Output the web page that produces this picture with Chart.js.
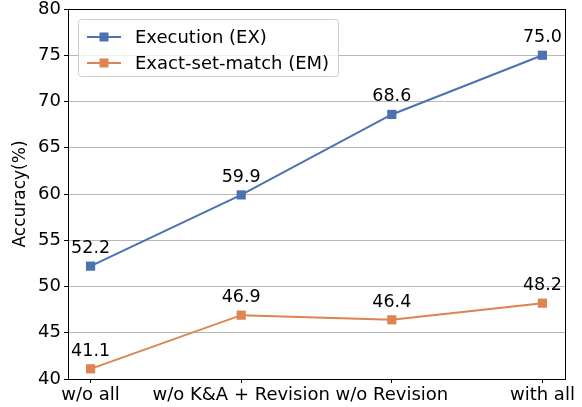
<!DOCTYPE html>
<html>
<head>
<meta charset="utf-8">
<script src="https://cdn.jsdelivr.net/npm/chart.js@4/dist/chart.umd.min.js"></script>
<style>
  body { margin: 0; background: #fff; }
</style>
</head>
<body>
<canvas id="accChart" width="582" height="407"></canvas>
<script>
const categories = ['w/o all', 'w/o K&A + Revision', 'w/o Revision', 'with all']
const exValues = [52.2, 59.9, 68.6, 75.0]
const emValues = [41.1, 46.9, 46.4, 48.2]
const yTicks = [40, 45, 50, 55, 60, 65, 70, 75, 80]

const FONT = 'DejaVu Sans'
const BLUE = '#4c72b0'
const ORANGE = '#dd8452'

const toPoints = vals => vals.map((v, i) => ({ x: i, y: v }))

//frame round the plot, like matplotlib spines
const framePlugin = {
	id: 'frame',
	afterDraw(chart) {
		const { ctx, chartArea: a } = chart
		ctx.save()
		ctx.strokeStyle = '#000'
		ctx.lineWidth = 1
		ctx.strokeRect(Math.round(a.left) + 0.5, Math.round(a.top) + 0.5, Math.round(a.right - a.left), Math.round(a.bottom - a.top))
		ctx.restore()
	}
}

//value labels above points
const valueLabels = {
	id: 'valueLabels',
	afterDatasetsDraw(chart) {
		const ctx = chart.ctx
		ctx.save()
		ctx.font = `17.5px "${FONT}"`
		ctx.fillStyle = '#000'
		ctx.textAlign = 'center'
		ctx.textBaseline = 'bottom'
		chart.data.datasets.forEach((ds, i) => {
			chart.getDatasetMeta(i).data.forEach((pt, j) => {
				ctx.fillText(ds.data[j].y.toFixed(1), pt.x, pt.y - 9)
			})
		})
		ctx.restore()
	}
}

//legend box in the upper left corner
const boxLegend = {
	id: 'boxLegend',
	afterDraw(chart) {
		const ctx = chart.ctx
		const a = chart.chartArea
		const x0 = a.left + 10, y0 = a.top + 10, w = 260, h = 57
		ctx.save()
		ctx.beginPath()
		ctx.roundRect(x0 + 0.5, y0 + 0.5, w, h, 3)
		ctx.fillStyle = 'rgba(255,255,255,0.8)'
		ctx.fill()
		ctx.strokeStyle = '#cccccc'
		ctx.lineWidth = 1
		ctx.stroke()
		ctx.font = `18px "${FONT}"`
		ctx.textBaseline = 'middle'
		chart.data.datasets.forEach((ds, i) => {
			const y = y0 + 18 + i * 26
			ctx.strokeStyle = ds.borderColor
			ctx.lineWidth = 2
			ctx.beginPath()
			ctx.moveTo(x0 + 9, y)
			ctx.lineTo(x0 + 43, y)
			ctx.stroke()
			ctx.fillStyle = ds.borderColor
			ctx.fillRect(x0 + 26 - 4.5, y - 4.5, 9, 9)
			ctx.fillStyle = '#000'
			ctx.fillText(ds.label, x0 + 57, y + 1)
		})
		ctx.restore()
	}
}

const makeSet = (label, vals, color) => ({
	label: label,
	data: toPoints(vals),
	borderColor: color,
	backgroundColor: color,
	borderWidth: 2,
	pointStyle: 'rect',
	pointRadius: 6.5,
	pointHoverRadius: 6.5,
	pointBorderWidth: 0,
	tension: 0
})

new Chart(document.getElementById('accChart'), {
	type: 'line',
	data: {
		datasets: [
			makeSet('Execution (EX)', exValues, BLUE),
			makeSet('Exact-set-match (EM)', emValues, ORANGE)
		]
	},
	plugins: [framePlugin, valueLabels, boxLegend],
	options: {
		responsive: false,
		animation: false,
		layout: { padding: { top: 9, right: 17, left: 0, bottom: 0 } },
		plugins: {
			legend: { display: false },
			tooltip: { enabled: false }
		},
		scales: {
			x: {
				type: 'linear',
				min: -0.15,
				max: 3.15,
				afterBuildTicks: axis => { axis.ticks = categories.map((c, i) => ({ value: i })) },
				afterFit: axis => { axis.height = 28; axis.paddingLeft = 0; axis.paddingRight = 0 },
				ticks: {
					color: '#000',
					font: { family: FONT, size: 18 },
					padding: 2,
					maxRotation: 0,
					autoSkip: false,
					callback: v => categories[v]
				},
				grid: { drawOnChartArea: false, tickLength: 4, tickColor: '#000', tickWidth: 1 },
				border: { color: '#000' }
			},
			y: {
				min: 40,
				max: 80,
				afterBuildTicks: axis => { axis.ticks = yTicks.map(v => ({ value: v })) },
				afterFit: axis => { axis.width = 68; axis.paddingTop = 0; axis.paddingBottom = 0 },
				ticks: {
					color: '#000',
					font: { family: FONT, size: 18 },
					padding: 3
				},
				grid: { color: '#b8b8b8', lineWidth: 1, tickLength: 4, tickColor: '#000', tickWidth: 1 },
				border: { color: '#000' },
				title: {
					display: true,
					text: 'Accuracy(%)',
					color: '#000',
					font: { family: FONT, size: 17 },
					padding: { top: 10, bottom: 0 }
				}
			}
		}
	}
})
</script>
</body>
</html>
